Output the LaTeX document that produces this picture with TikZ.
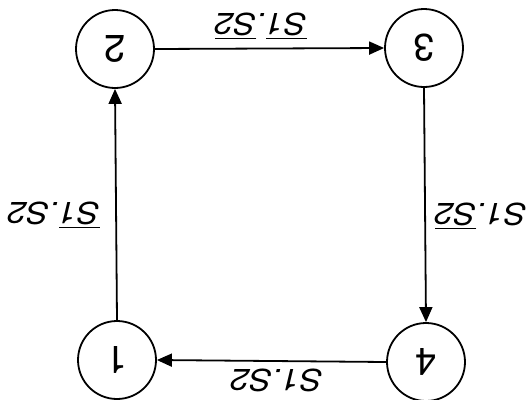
\documentclass[tikz,border=0pt]{standalone}
\usepackage{fontspec}
\setmainfont{TeX Gyre Heros}
\newfontfamily\arialf{TeX Gyre Heros}
\usetikzlibrary{arrows.meta}
\newcommand\ovl[1]{\leavevmode\vbox{\hrule height 1.8pt\kern 2.2pt\hbox{#1}}}
\newcommand\flip[1]{\rotatebox[origin=c]{180}{#1}}
\newcommand\wide[1]{\scalebox{1.12}[1]{#1}}
\begin{document}
\begin{tikzpicture}[x=1pt,y=-1pt,
  state/.style={circle,draw,line width=1.8pt,minimum size=78pt,inner sep=0pt,
    font=\arialf\fontsize{38}{40}\selectfont},
  lbl/.style={font=\arialf\itshape\fontsize{30}{32}\selectfont,inner sep=0pt},
  edge/.style={line width=1.8pt,-{Triangle[length=15pt,width=13pt]}}]
\useasboundingbox (0,0) rectangle (529,399);
\node[state] (s2) at (115,49) {\flip{2}};
\node[state] (s3) at (424,48) {\flip{3}};
\node[state] (s1) at (117,360) {\flip{1}};
\node[state] (s4) at (426,362) {\flip{4}};
\draw[edge] (s2.east) -- (s3.west);
\draw[edge] (s3.south) -- (s4.north);
\draw[edge] (s4.west) -- (s1.east);
\draw[edge] (s1.north) -- (s2.south);
\node[lbl] (l23) at (261,26) {\flip{\wide{\ovl{S1}.\ovl{S2}}}};
\node[lbl] (l34) at (481,216) {\flip{\wide{S1.\ovl{S2}}}};
\node[lbl] (l41) at (277,380) {\flip{\wide{S1.S2}}};
\node[lbl] (l12) at (54,215) {\flip{\wide{\ovl{S1}.S2}}};
\end{tikzpicture}
\end{document}
